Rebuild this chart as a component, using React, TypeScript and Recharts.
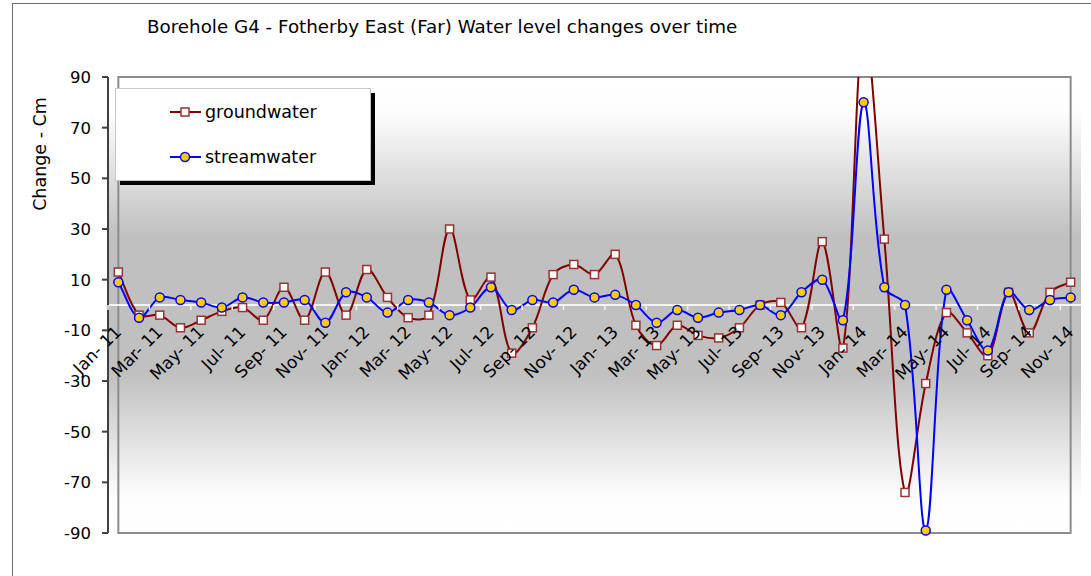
import React from "react"
import { LineChart, Line, XAxis, YAxis, CartesianGrid, ReferenceArea, ReferenceLine, Legend } from "recharts"

const months = [
    "Jan- 11", "Feb- 11", "Mar- 11", "Apr- 11", "May- 11", "Jun- 11", "Jul- 11", "Aug- 11", "Sep- 11", "Oct- 11", "Nov- 11", "Dec- 11",
    "Jan- 12", "Feb- 12", "Mar- 12", "Apr- 12", "May- 12", "Jun- 12", "Jul- 12", "Aug- 12", "Sep- 12", "Oct- 12", "Nov- 12", "Dec- 12",
    "Jan- 13", "Feb- 13", "Mar- 13", "Apr- 13", "May- 13", "Jun- 13", "Jul- 13", "Aug- 13", "Sep- 13", "Oct- 13", "Nov- 13", "Dec- 13",
    "Jan- 14", "Feb- 14", "Mar- 14", "Apr- 14", "May- 14", "Jun- 14", "Jul- 14", "Aug- 14", "Sep- 14", "Oct- 14", "Nov- 14",
]

const groundwater = [
    13, -4, -4, -9, -6, -2.5, -1, -6, 7, -6, 13, -4,
    14, 3, -5, -4, 30, 2, 11, -19, -9, 12, 16, 12,
    20, -8, -16, -8, -12, -13, -9, 0, 1, -9, 25, -17,
    110, 26, -74, -31, -3, -11, -20, 5, -11, 5, 9,
]

const streamwater = [
    9, -5, 3, 2, 1, -1, 3, 1, 1, 2, -7, 5,
    3, -3, 2, 1, -4, -1, 7, -2, 2, 1, 6, 3,
    4, 0, -7, -2, -5, -3, -2, 0, -4, 5, 10, -6,
    80, 7, 0, -89, 6, -6, -18, 5, -2, 2, 3,
]

const yTicks = [-90, -70, -50, -30, -10, 10, 30, 50, 70, 90]

const data = months.map((month, i) => ({
    month,
    groundwater: groundwater[i],
    streamwater: streamwater[i],
}))

// layout
const W = 1091
const H = 576
const PLOT_LEFT = 108
const PLOT_TOP = 77
const PLOT_RIGHT = 1081
const PLOT_BOTTOM = 533
const PLOT_W = PLOT_RIGHT - PLOT_LEFT
const PLOT_H = PLOT_BOTTOM - PLOT_TOP
const BAND = PLOT_W / months.length
const ZERO_Y = PLOT_TOP + PLOT_H * 0.5
const FONT = "'DejaVu Sans', Verdana, sans-serif"

// Excel-like smoothing: bezier with tangents split by neighbouring segment lengths
const smoothCurve = (context: any) => {
    let pts: number[][] = []
    return {
        areaStart() {},
        areaEnd() {},
        lineStart() {
            pts = []
        },
        point(x: number, y: number) {
            pts.push([+x, +y])
        },
        lineEnd() {
            if (!pts.length) return
            const n = pts.length
            const dist = (a: number[], b: number[]) => Math.hypot(b[0] - a[0], b[1] - a[1])
            // in/out control points for each point
            const cin: number[][] = []
            const cout: number[][] = []
            for (let i = 0; i < n; i++) {
                const p0 = pts[i - 1] || pts[i]
                const p1 = pts[i]
                const p2 = pts[i + 1] || pts[i]
                const d01 = dist(p0, p1)
                const d12 = dist(p1, p2)
                const sum = d01 + d12 || 1
                const tx = p2[0] - p0[0]
                const ty = p2[1] - p0[1]
                const fin = d01 / sum / 3
                const fout = d12 / sum / 3
                cin.push([p1[0] - tx * fin, p1[1] - ty * fin])
                cout.push([p1[0] + tx * fout, p1[1] + ty * fout])
            }
            context.moveTo(pts[0][0], pts[0][1])
            for (let i = 0; i < n - 1; i++) {
                context.bezierCurveTo(cout[i][0], cout[i][1], cin[i + 1][0], cin[i + 1][1], pts[i + 1][0], pts[i + 1][1])
            }
        },
    }
}

const SquareDot = (props: any) => {
    const { cx, cy, index } = props
    if (cx == null || cy == null) return <g key={`sq-${index}`} />
    return (
        <rect
            key={`sq-${index}`}
            x={cx - 4}
            y={cy - 4}
            width={8}
            height={8}
            fill="#ffffff"
            stroke="#993333"
            strokeWidth={1.5}
        />
    )
}

const MonthTick = (props: any) => {
    const { x, payload } = props
    const ax = x + 4
    const ay = ZERO_Y + 28
    return (
        <g>
            <line x1={x - BAND / 2} x2={x - BAND / 2} y1={ZERO_Y} y2={ZERO_Y + 5} stroke="#f4f4f4" strokeWidth={1.5} />
            <text x={ax} y={ay} textAnchor="end" fontSize={17} fill="#000" transform={`rotate(-45 ${ax} ${ay})`}>
                {payload.value}
            </text>
        </g>
    )
}

const LegendBox = ({ payload }: any) => {
    const items = payload || []
    return (
        <svg width={270} height={105} style={{ display: "block" }}>
            <rect x={7} y={7} width={255} height={92} fill="#000" />
            <rect x={2.5} y={2.5} width={255} height={92} fill="#fff" stroke="#c8c8c8" />
            {items.map((item: any, i: number) => {
                const cy = 26 + i * 45
                const isGround = item.dataKey === "groundwater"
                return (
                    <g key={item.dataKey}>
                        <line x1={57} x2={88} y1={cy} y2={cy} stroke={item.color} strokeWidth={2} />
                        {isGround ? (
                            <rect x={68} y={cy - 4} width={8} height={8} fill="#fff" stroke="#993333" strokeWidth={1.5} />
                        ) : (
                            <circle cx={72} cy={cy} r={4.5} fill="#FFCC00" stroke="#0000FF" strokeWidth={1.5} />
                        )}
                        <text x={92} y={cy} dy="0.36em" fontSize={17.5} fill="#000" fontFamily={FONT}>
                            {item.value}
                        </text>
                    </g>
                )
            })}
        </svg>
    )
}

export default function App() {
    return (
        <div
            style={{
                position: "absolute",
                left: 0,
                top: 0,
                width: W,
                height: H,
                overflow: "hidden",
                background: "#fff",
                fontFamily: FONT,
            }}
        >
            <div
                style={{
                    position: "absolute",
                    left: 12,
                    top: 3,
                    width: W + 20,
                    height: H + 20,
                    border: "1px solid #6e6e6e",
                }}
            />
            <div
                style={{
                    position: "absolute",
                    left: 147,
                    top: 16,
                    fontSize: 18.3,
                    lineHeight: "22px",
                    color: "#000",
                    whiteSpace: "nowrap",
                }}
            >
                Borehole G4 - Fotherby East (Far) Water level changes over time
            </div>
            <div
                style={{
                    position: "absolute",
                    left: 40,
                    top: 154,
                    transform: "translate(-50%, -50%) rotate(-90deg)",
                    fontSize: 17.5,
                    whiteSpace: "nowrap",
                    color: "#000",
                }}
            >
                Change - Cm
            </div>
            <div style={{ position: "absolute", left: 0, top: 0 }}>
                <LineChart
                    width={W}
                    height={H}
                    data={data}
                    margin={{ top: PLOT_TOP, right: W - PLOT_RIGHT, bottom: H - PLOT_BOTTOM - 20, left: PLOT_LEFT - 60 }}
                >
                    <defs>
                        <linearGradient id="plotBg" x1="0" y1="0" x2="0" y2="1">
                            <stop offset="0%" stopColor="#ffffff" />
                            <stop offset="8%" stopColor="#fdfdfd" />
                            <stop offset="35%" stopColor="#c0c0c0" />
                            <stop offset="65%" stopColor="#c0c0c0" />
                            <stop offset="92%" stopColor="#fdfdfd" />
                            <stop offset="100%" stopColor="#ffffff" />
                        </linearGradient>
                    </defs>
                    <CartesianGrid horizontal={false} vertical={false} fill="url(#plotBg)" />
                    <ReferenceArea y1={-90} y2={90} fill="none" stroke="#8c8c8c" strokeWidth={2} />
                    <ReferenceLine y={0} stroke="#f4f4f4" strokeWidth={2} />
                    <XAxis
                        dataKey="month"
                        interval={1}
                        height={20}
                        axisLine={false}
                        tickLine={false}
                        padding={{ left: BAND / 2, right: BAND / 2 }}
                        tick={<MonthTick />}
                    />
                    <YAxis
                        width={60}
                        domain={[-90, 90]}
                        ticks={yTicks}
                        allowDataOverflow
                        interval={0}
                        tickSize={6}
                        tickMargin={11}
                        stroke="#404040"
                        strokeWidth={2}
                        tick={{ fill: "#000", fontSize: 16.5 }}
                    />
                    <Legend
                        layout="horizontal"
                        verticalAlign="middle"
                        align="center"
                        wrapperStyle={{ left: 113, top: 86, width: 270, height: 105 }}
                        content={<LegendBox />}
                    />
                    <Line
                        dataKey="groundwater"
                        name="groundwater"
                        type={smoothCurve as any}
                        stroke="#800000"
                        strokeWidth={2}
                        dot={SquareDot}
                        activeDot={false}
                        isAnimationActive={false}
                    />
                    <Line
                        dataKey="streamwater"
                        name="streamwater"
                        type={smoothCurve as any}
                        stroke="#0000FF"
                        strokeWidth={2}
                        dot={{ r: 4.5, fill: "#FFCC00", stroke: "#0000FF", strokeWidth: 1.5, clipDot: false }}
                        activeDot={false}
                        isAnimationActive={false}
                    />
                </LineChart>
            </div>
        </div>
    )
}
